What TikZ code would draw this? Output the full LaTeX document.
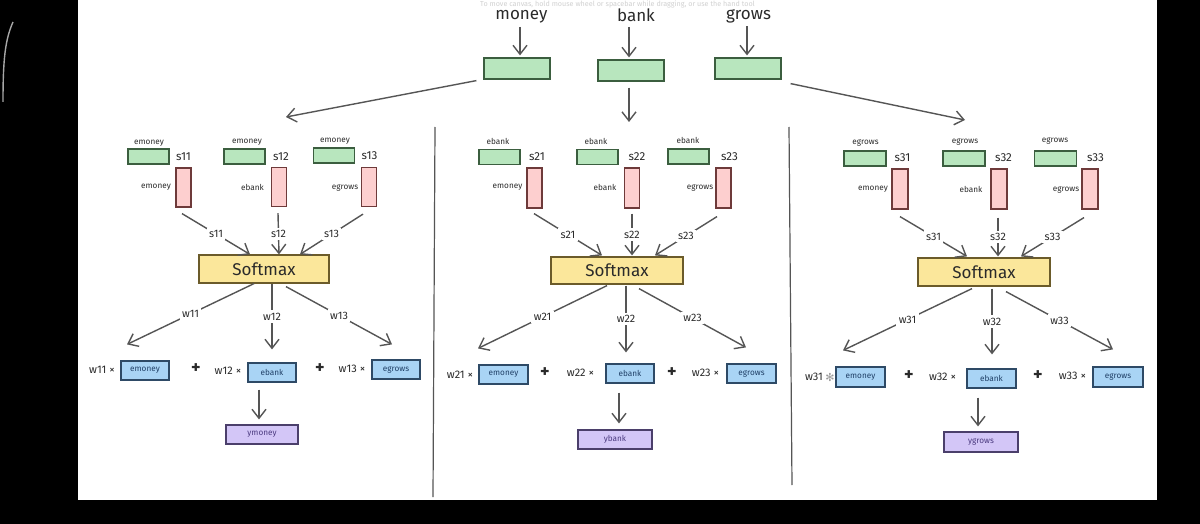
\documentclass[tikz,border=0pt]{standalone}
\usepackage{fontspec}
\setmainfont{Fira Sans}
\newfontfamily\symfont{DejaVu Sans}
\usetikzlibrary{arrows.meta}
\definecolor{ink}{HTML}{2A2A2A}
\definecolor{arrowc}{HTML}{555555}
\definecolor{gfill}{HTML}{B8E6BE}
\definecolor{gstroke}{HTML}{3B5E3F}
\definecolor{pfill}{HTML}{FDCFCF}
\definecolor{pstroke}{HTML}{6E3A3A}
\definecolor{yfill}{HTML}{FBE79B}
\definecolor{ystroke}{HTML}{6B5B2A}
\definecolor{bfill}{HTML}{A9D4F5}
\definecolor{bstroke}{HTML}{2E4A66}
\definecolor{btext}{HTML}{1F3F66}
\definecolor{vfill}{HTML}{D3C6F7}
\definecolor{vstroke}{HTML}{4B3F6B}
\definecolor{vtext}{HTML}{4B3A80}
\begin{document}
\begin{tikzpicture}[x=0.5pt,y=-0.5pt,
  box/.style={draw, line width=0.6pt, inner sep=0pt},
  gbox/.style={box, draw=gstroke, fill=gfill, minimum width=20.5pt, minimum height=7.5pt},
  tgbox/.style={box, draw=gstroke, fill=gfill, minimum width=33pt, minimum height=10.5pt},
  pbox/.style={box, draw=pstroke, fill=pfill, minimum width=7.5pt, minimum height=19.5pt},
  sbox/.style={box, draw=ystroke, fill=yfill, minimum width=65pt, minimum height=14pt,
    font=\fontsize{8.5}{10}\selectfont, text=ink},
  bbox/.style={box, draw=bstroke, fill=bfill, minimum width=24pt, minimum height=9.5pt,
    font=\fontsize{4.1}{5}\selectfont, text=btext},
  ybox/.style={box, draw=vstroke, fill=vfill, minimum width=36pt, minimum height=9.5pt,
    font=\fontsize{4.1}{5}\selectfont, text=vtext},
  word/.style={font=\fontsize{8.5}{10}\selectfont, text=ink, inner sep=0pt},
  tiny/.style={font=\fontsize{4.1}{5}\selectfont, text=ink, inner sep=0pt},
  slab/.style={font=\fontsize{5.8}{7}\selectfont, text=ink, inner sep=0pt},
  term/.style={font=\fontsize{5.5}{6.5}\selectfont, text=ink, inner sep=0pt},
  plus/.style={font=\fontsize{9}{10}\selectfont\bfseries, text=ink, inner sep=0pt},
  lbl/.style={font=\fontsize{5.4}{6.5}\selectfont, text=ink, fill=white, inner sep=1.2pt},
  arr/.style={draw=arrowc, line width=0.7pt, -{Straight Barb[length=4.5pt,width=7pt]}},
  sep/.style={draw=ink!80, line width=0.6pt}
]
% canvas
\useasboundingbox (0,0) rectangle (1200,524);
\fill[black] (0,0) rectangle (1200,524);
\fill[white] (78,0) rectangle (1157,500);
\draw[gray!70, line width=0.7pt] (13,22) .. controls (5,40) and (3,60) .. (3,102);
\node[font=\fontsize{3.6}{4}\selectfont, text=black!18, inner sep=0pt] (hint) at (617.5,4)
  {To move canvas, hold mouse wheel or spacebar while dragging, or use the hand tool};

% top row
\node[word] (mw) at (521.5,17) {money};
\node[word] (bw) at (636,15) {bank};
\node[word] (gw) at (748.5,16) {grows};
\node[tgbox] (e1) at (517,68.5) {};
\node[tgbox] (e2) at (631,70.5) {};
\node[tgbox] (e3) at (748,68.5) {};
\draw[arr, shorten <=1.5pt, shorten >=1pt] ([xshift=-0.75pt]mw.south) -- ([xshift=-0.75pt]mw.south |- e1.north);
\draw[arr, shorten <=2.5pt, shorten >=1pt] ([xshift=-3.5pt]bw.south) -- ([xshift=-3.5pt]bw.south |- e2.north);
\draw[arr, shorten <=1.5pt, shorten >=1pt] ([xshift=-0.75pt]gw.south) -- ([xshift=-0.75pt]gw.south |- e3.north);
\coordinate (cL) at (286,117);
\coordinate (cM) at (629,122);
\coordinate (cR) at (965,120);
\draw[arr] ([xshift=-3.5pt,yshift=-0.5pt]e1.south west) -- (cL);
\draw[arr] ([xshift=-1pt,yshift=-3pt]e2.south) -- (cM);
\draw[arr] ([xshift=4.5pt,yshift=-2pt]e3.south east) -- (cR);

% separators
\draw[sep] (435,127) -- (433,497);
\draw[sep] (789,127) -- (792,485);

% ===== panel 1 =====
\node[tiny] (t11) at (149,143) {emoney};
\node[tiny] (t12) at (247,142) {emoney};
\node[tiny] (t13) at (335,141) {emoney};
\node[gbox] (g11) at (148.5,156.5) {};
\node[gbox] (g12) at (244.5,156.5) {};
\node[gbox] (g13) at (334,155.5) {};
\node[slab] (sl11) at (183.5,157) {s11};
\node[slab] (sl12) at (281,157) {s12};
\node[slab] (sl13) at (369.5,156) {s13};
\node[pbox] (p11) at (183.5,187.5) {};
\node[pbox] (p12) at (279,187) {};
\node[pbox] (p13) at (369,187) {};
\node[tiny] (pl11) at (156,187) {emoney};
\node[tiny] (pl12) at (252.5,187) {ebank};
\node[tiny] (pl13) at (345,188) {egrows};
\node[sbox] (sm1) at (264,269) {Softmax};
\draw[arr] ([xshift=-0.75pt,yshift=-3pt]p11.south) -- node[lbl]{s11} ([xshift=-7pt]sm1.north);
\draw[arr] ([xshift=-0.5pt,yshift=-3pt]p12.south) -- node[lbl]{s12} ([xshift=7.5pt]sm1.north);
\draw[arr] ([xshift=-3pt,yshift=-3.5pt]p13.south) -- node[lbl]{s13} ([xshift=18pt]sm1.north);
\node[term] (wt11) at (102,370) {w11 ×};
\node[plus] (pa11) at (196,369) {+};
\node[term] (wt12) at (228,371) {w12 ×};
\node[plus] (pa12) at (320,369) {+};
\node[term] (wt13) at (352,369) {w13 ×};
\node[bbox] (b11) at (145,370.5) {emoney};
\node[bbox] (b12) at (272,372.5) {ebank};
\node[bbox] (b13) at (396,369.5) {egrows};
\draw[arr] ([xshift=-5pt]sm1.south) -- node[lbl]{w11} ([xshift=-9pt,yshift=8pt]b11.north);
\draw[arr] ([xshift=4pt]sm1.south) -- node[lbl]{w12} ([yshift=6.5pt]b12.north);
\draw[arr] ([xshift=11pt,yshift=-1.5pt]sm1.south) -- node[lbl]{w13} ([xshift=-2pt,yshift=7.5pt]b13.north);
\node[ybox] (y1) at (262,434.5) {ymoney};
\draw[arr] ([xshift=-6.5pt,yshift=-3.5pt]b12.south) -- ([xshift=-1.5pt,yshift=2.5pt]y1.north);

% ===== panel 2 =====
\node[tiny] (t21) at (498,141) {ebank};
\node[tiny] (t22) at (596,141) {ebank};
\node[tiny] (t23) at (688,140) {ebank};
\node[gbox] (g21) at (499.5,157) {};
\node[gbox] (g22) at (597.5,157) {};
\node[gbox] (g23) at (688.5,156.5) {};
\node[slab] (sl21) at (537,157) {s21};
\node[slab] (sl22) at (637,157) {s22};
\node[slab] (sl23) at (729.5,157) {s23};
\node[pbox, minimum height=20pt] (p21) at (534.5,188) {};
\node[pbox, minimum height=20pt] (p22) at (632,188) {};
\node[pbox, minimum height=20pt] (p23) at (723.5,188) {};
\node[tiny] (pl21) at (507.5,187) {emoney};
\node[tiny] (pl22) at (605,187) {ebank};
\node[tiny] (pl23) at (700,188) {egrows};
\node[sbox, minimum width=66pt, minimum height=13.5pt] (sm2) at (617,270.5) {Softmax};
\draw[arr] ([xshift=-0.25pt,yshift=-2.5pt]p21.south) -- node[lbl]{s21} ([xshift=-7.5pt,yshift=0.5pt]sm2.north);
\draw[arr] ([yshift=-2.5pt]p22.south) -- node[lbl]{s22} ([yshift=0.5pt,xshift=7.5pt]sm2.north);
\draw[arr] ([xshift=-3.25pt,yshift=-4pt]p23.south) -- node[lbl]{s23} ([xshift=19pt,yshift=0.5pt]sm2.north);
\node[term] (wt21) at (460,375) {w21 ×};
\node[plus] (pa21) at (545,373) {+};
\node[term] (wt22) at (580.5,373) {w22 ×};
\node[plus] (pa22) at (672,373) {+};
\node[term] (wt23) at (705.5,373) {w23 ×};
\node[bbox, minimum width=24.5pt] (b21) at (503.5,374.5) {emoney};
\node[bbox] (b22) at (630,373.5) {ebank};
\node[bbox, minimum width=24.5pt] (b23) at (751.5,373.5) {egrows};
\draw[arr] ([xshift=-5pt,yshift=-0.5pt]sm2.south) -- node[lbl]{w21} ([xshift=-12.75pt,yshift=8pt]b21.north);
\draw[arr] ([xshift=4.5pt,yshift=-0.5pt]sm2.south) -- node[lbl]{w22} ([xshift=-2pt,yshift=5.5pt]b22.north);
\draw[arr] ([xshift=11pt,yshift=-2pt]sm2.south) -- node[lbl]{w23} ([xshift=-2.75pt,yshift=8pt]b23.north);
\node[ybox, minimum width=37pt] (y2) at (615,439.5) {ybank};
\draw[arr] ([xshift=-5.5pt,yshift=-4.5pt]b22.south) -- ([xshift=2pt,yshift=3pt]y2.north);

% ===== panel 3 =====
\node[tiny] (t31) at (865.5,143) {egrows};
\node[tiny] (t32) at (965,142) {egrows};
\node[tiny] (t33) at (1055,141) {egrows};
\node[gbox, minimum width=21pt] (g31) at (865,158.5) {};
\node[gbox, minimum width=21pt] (g32) at (964,158.5) {};
\node[gbox, minimum width=21pt] (g33) at (1055.5,158.5) {};
\node[slab] (sl31) at (902.5,158) {s31};
\node[slab] (sl32) at (1003.5,158) {s32};
\node[slab] (sl33) at (1095.5,158) {s33};
\node[pbox, minimum width=8pt, minimum height=20pt] (p31) at (900,189) {};
\node[pbox, minimum width=8pt, minimum height=20pt] (p32) at (999,189) {};
\node[pbox, minimum width=8pt, minimum height=20pt] (p33) at (1090,189) {};
\node[tiny] (pl31) at (873,189) {emoney};
\node[tiny] (pl32) at (971,189) {ebank};
\node[tiny] (pl33) at (1066,190) {egrows};
\node[sbox, minimum width=66pt] (sm3) at (984,272) {Softmax};
\draw[arr] ([yshift=-3.5pt]p31.south) -- node[lbl]{s31} ([xshift=-8.5pt,yshift=0.5pt]sm3.north);
\draw[arr] ([xshift=-0.5pt,yshift=-4pt]p32.south) -- node[lbl]{s32} ([xshift=7pt,yshift=0.5pt]sm3.north);
\draw[arr] ([xshift=-3pt,yshift=-4pt]p33.south) -- node[lbl]{s33} ([xshift=18.5pt,yshift=0.5pt]sm3.north);
\node[term] (wt31) at (814,377) {w31};
\node[font=\symfont\fontsize{5.5}{6}\selectfont, text=gray!80, inner sep=0pt] (cur) at (830,377) {✻};
\node[plus] (pa31) at (909,376) {+};
\node[term] (wt32) at (942.5,377) {w32 ×};
\node[plus] (pa32) at (1038,376) {+};
\node[term] (wt33) at (1072.5,376) {w33 ×};
\node[bbox, minimum width=24.5pt, minimum height=10pt] (b31) at (860.5,377) {emoney};
\node[bbox, minimum width=24.5pt] (b32) at (991.5,378.5) {ebank};
\node[bbox, minimum width=25pt, minimum height=10pt] (b33) at (1118,377) {egrows};
\draw[arr] ([xshift=-6pt,yshift=-1pt]sm3.south) -- node[lbl]{w31} ([xshift=-8.75pt,yshift=8pt]b31.north);
\draw[arr] ([xshift=4pt,yshift=-1pt]sm3.south) -- node[lbl]{w32} ([xshift=0.25pt,yshift=7pt]b32.north);
\draw[arr] ([xshift=11pt,yshift=-2.5pt]sm3.south) -- node[lbl]{w33} ([xshift=-2.5pt,yshift=8.5pt]b33.north);
\node[ybox, minimum width=37pt, minimum height=10pt] (y3) at (981,442) {ygrows};
\draw[arr] ([xshift=-6.75pt,yshift=-4.5pt]b32.south) -- ([xshift=-1.5pt,yshift=2.5pt]y3.north);
\end{tikzpicture}
\end{document}
